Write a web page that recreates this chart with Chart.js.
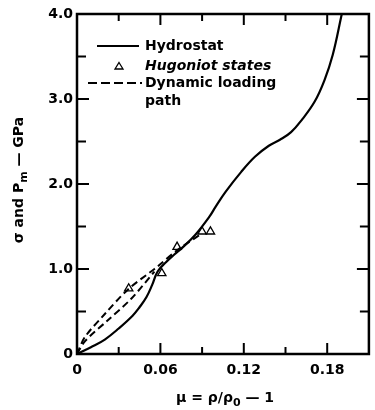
<!DOCTYPE html>
<html>
<head>
<meta charset="utf-8">
<script src="https://cdn.jsdelivr.net/npm/chart.js@4/dist/chart.umd.min.js"></script>
<style>
html,body{margin:0;padding:0;background:#fff;}
canvas{display:block;}
</style>
</head>
<body>
<canvas id="c" width="375" height="410"></canvas>
<script>
// ---- data ----
const hydroMu  = [0, 0.01, 0.02, 0.03, 0.04, 0.045, 0.05, 0.054, 0.058, 0.064, 0.07, 0.076, 0.085, 0.095, 0.1, 0.107, 0.118, 0.128, 0.138, 0.146, 0.154, 0.162, 0.171, 0.178, 0.184, 0.1905];
const hydroSig = [0, 0.08, 0.17, 0.30, 0.45, 0.55, 0.67, 0.81, 0.97, 1.08, 1.17, 1.255, 1.40, 1.61, 1.74, 1.91, 2.14, 2.32, 2.45, 2.52, 2.61, 2.76, 2.97, 3.22, 3.52, 4.0];

const hugMu  = [0.0372, 0.061, 0.072, 0.090, 0.096];
const hugSig = [0.77, 0.95, 1.26, 1.44, 1.44];

const dynUpperMu  = [0, 0.0057, 0.02, 0.0367, 0.0557, 0.058, 0.072, 0.09];
const dynUpperSig = [0, 0.20, 0.47, 0.76, 1.0, 1.03, 1.22, 1.42];
const dynLowerMu  = [0, 0.0057, 0.0224, 0.039, 0.0557];
const dynLowerSig = [0, 0.15, 0.40, 0.65, 0.97];

const xTickValues = [0, 0.03, 0.06, 0.09, 0.12, 0.15, 0.18];
const xTickLabels = ['0', '', '0.06', '', '0.12', '', '0.18'];
const yTickValues = [0, 0.5, 1, 1.5, 2, 2.5, 3, 3.5, 4];
const yTickLabels = ['0', '', '1.0', '', '2.0', '', '3.0', '', '4.0'];

const legendLabels = ['Hydrostat', 'Hugoniot states', 'Dynamic loading', 'path'];

const pts = (xs, ys) => xs.map((x, i) => ({x: x, y: ys[i]}));

const FONT = '"DejaVu Sans", sans-serif';

const framePlugin = {
  id: 'frame',
  afterDraw(chart) {
    const ctx = chart.ctx;
    const a = chart.chartArea;
    const xs = chart.scales.x, ys = chart.scales.y;
    ctx.save();
    ctx.strokeStyle = '#000';
    ctx.lineWidth = 2.5;
    ctx.strokeRect(a.left, a.top, a.right - a.left, a.bottom - a.top);
    ctx.lineWidth = 2;
    xTickValues.forEach((v, i) => {
      const px = xs.getPixelForValue(v);
      const len = xTickLabels[i] !== '' || v === 0 ? 11 : 7;
      ctx.beginPath();
      ctx.moveTo(px, a.bottom); ctx.lineTo(px, a.bottom - len);
      ctx.moveTo(px, a.top); ctx.lineTo(px, a.top + len);
      ctx.stroke();
    });
    yTickValues.forEach((v, i) => {
      const py = ys.getPixelForValue(v);
      const len = yTickLabels[i] !== '' ? 12 : 9;
      ctx.beginPath();
      ctx.moveTo(a.left, py); ctx.lineTo(a.left + len, py);
      ctx.moveTo(a.right, py); ctx.lineTo(a.right - len, py);
      ctx.stroke();
    });

    // legend
    ctx.fillStyle = '#000';
    ctx.textBaseline = 'middle';
    ctx.textAlign = 'left';
    const lx = a.left + 68;
    ctx.font = 'bold 14px ' + FONT;
    ctx.lineWidth = 2;
    ctx.beginPath(); ctx.moveTo(a.left + 20, a.top + 32); ctx.lineTo(a.left + 62, a.top + 32); ctx.stroke();
    ctx.fillText(legendLabels[0], lx, a.top + 32);
    // triangle
    ctx.lineWidth = 1.3;
    ctx.beginPath();
    const tx = a.left + 42, ty = a.top + 52;
    ctx.moveTo(tx, ty - 3.5); ctx.lineTo(tx + 4, ty + 3); ctx.lineTo(tx - 4, ty + 3); ctx.closePath(); ctx.stroke();
    ctx.font = 'italic bold 14px ' + FONT;
    ctx.fillText(legendLabels[1], lx, a.top + 52);
    ctx.font = 'bold 14px ' + FONT;
    ctx.lineWidth = 2;
    ctx.setLineDash([9, 4]);
    ctx.beginPath(); ctx.moveTo(a.left + 11, a.top + 69); ctx.lineTo(a.left + 65, a.top + 69); ctx.stroke();
    ctx.setLineDash([]);
    ctx.fillText(legendLabels[2], lx, a.top + 69);
    ctx.fillText(legendLabels[3], lx, a.top + 87);

    // x title with subscript
    const mainFont = 'bold 14px ' + FONT;
    const subFont = 'bold 11px ' + FONT;
    ctx.font = mainFont;
    ctx.textBaseline = 'alphabetic';
    const p1 = 'μ = ρ/ρ', p3 = ' — 1';
    const w1 = ctx.measureText(p1).width, w3 = ctx.measureText(p3).width;
    ctx.font = subFont; const w2 = ctx.measureText('0').width;
    const total = w1 + w2 + w3;
    let x0 = 225 - total / 2, yb = 402;
    ctx.font = mainFont; ctx.fillText(p1, x0, yb);
    ctx.font = subFont; ctx.fillText('0', x0 + w1, yb + 4);
    ctx.font = mainFont; ctx.fillText(p3, x0 + w1 + w2, yb);

    // y title rotated
    ctx.save();
    ctx.translate(23, (a.top + a.bottom) / 2 - 4);
    ctx.rotate(-Math.PI / 2);
    const q1 = 'σ and P', q3 = ' — GPa';
    ctx.font = mainFont;
    const v1 = ctx.measureText(q1).width, v3 = ctx.measureText(q3).width;
    ctx.font = subFont; const v2 = ctx.measureText('m').width;
    const tot2 = v1 + v2 + v3;
    const s0 = -tot2 / 2;
    ctx.font = mainFont; ctx.fillText(q1, s0, 0);
    ctx.font = subFont; ctx.fillText('m', s0 + v1, 4);
    ctx.font = mainFont; ctx.fillText(q3, s0 + v1 + v2, 0);
    ctx.restore();
    ctx.restore();
  }
};

new Chart(document.getElementById('c'), {
  type: 'scatter',
  data: {
    datasets: [
      {
        label: 'Hydrostat',
        data: pts(hydroMu, hydroSig),
        showLine: true,
        borderColor: '#000',
        borderWidth: 2.2,
        pointRadius: 0,
        tension: 0.4
      },
      {
        label: 'Dynamic loading path',
        data: pts(dynUpperMu, dynUpperSig),
        showLine: true,
        borderColor: '#000',
        borderWidth: 2,
        borderDash: [7, 4],
        pointRadius: 0,
        tension: 0.3
      },
      {
        label: 'Dynamic loading path (2)',
        data: pts(dynLowerMu, dynLowerSig),
        showLine: true,
        borderColor: '#000',
        borderWidth: 2,
        borderDash: [7, 4],
        pointRadius: 0,
        tension: 0.3
      },
      {
        label: 'Hugoniot states',
        data: pts(hugMu, hugSig),
        showLine: false,
        pointStyle: 'triangle',
        pointRadius: 4.8,
        borderColor: '#000',
        backgroundColor: '#fff',
        borderWidth: 1.3
      }
    ]
  },
  options: {
    responsive: false,
    devicePixelRatio: 1,
    animation: false,
    layout: { padding: { top: 14, right: 2, left: 0, bottom: 0 } },
    plugins: { legend: { display: false }, tooltip: { enabled: false } },
    scales: {
      x: {
        type: 'linear', min: 0, max: 0.21,
        afterBuildTicks: s => { s.ticks = xTickValues.map(v => ({value: v})); },
        afterFit: s => { s.height = 56; },
        grid: { display: false, drawTicks: false },
        border: { display: false },
        ticks: {
          autoSkip: false, maxRotation: 0, padding: 8, color: '#000',
          font: { family: FONT, size: 14, weight: 'bold' },
          callback: (v, i) => xTickLabels[i]
        }
      },
      y: {
        type: 'linear', min: 0, max: 4,
        afterBuildTicks: s => { s.ticks = yTickValues.map(v => ({value: v})); },
        afterFit: s => { s.width = 77; },
        grid: { display: false, drawTicks: false },
        border: { display: false },
        ticks: {
          autoSkip: false, padding: 4, color: '#000',
          font: { family: FONT, size: 14, weight: 'bold' },
          callback: (v, i) => yTickLabels[i]
        }
      }
    }
  },
  plugins: [framePlugin]
});
</script>
</body>
</html>
